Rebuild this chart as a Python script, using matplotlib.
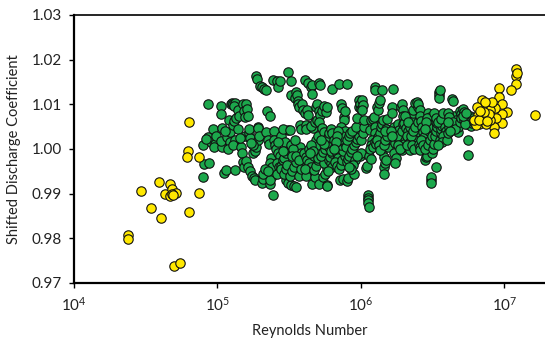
import matplotlib
matplotlib.use('Agg')
import matplotlib.pyplot as plt
import numpy as np
from matplotlib.ticker import NullLocator

# ---------------- data ----------------
# log10 of Reynolds number and shifted discharge coefficient, green series
green_log10_re = [
    4.898, 4.903, 4.898, 4.932, 4.944, 4.937, 4.956, 4.968, 4.981, 4.990, 4.975, 4.920,
    5.024, 5.024, 5.029, 5.029, 5.026, 5.046, 5.058, 5.078, 5.066, 5.090, 5.085, 5.093, 5.050, 5.070,
    5.100, 5.110, 5.120, 5.115, 5.105, 5.118, 5.130, 5.125, 5.110, 5.125, 5.140, 5.150, 5.145, 5.165, 5.170, 5.180, 5.185, 5.190, 5.195, 5.175, 5.185, 5.160,
    5.200, 5.205, 5.210, 5.220, 5.225, 5.223, 5.199, 5.210, 5.228, 5.240, 5.255, 5.265, 5.272, 5.279, 5.280, 5.285, 5.250, 5.260, 5.270, 5.280, 5.290, 5.295, 5.245, 5.235,
    5.310, 5.325, 5.340, 5.308, 5.320, 5.315, 5.345, 5.364, 5.340, 5.350, 5.360, 5.370, 5.365, 5.383, 5.378, 5.364, 5.366, 5.389, 5.395, 5.392, 5.398, 5.388, 5.330, 5.350,
    5.415, 5.425, 5.435, 5.410, 5.422, 5.435, 5.417, 5.430, 5.445, 5.435, 5.417, 5.445, 5.455, 5.466, 5.478, 5.490, 5.500, 5.490, 5.495, 5.440, 5.455, 5.470, 5.480, 5.495, 5.465, 5.475, 5.485, 5.460, 5.420,
    5.510, 5.505, 5.515, 5.540, 5.548, 5.553, 5.558, 5.563, 5.570, 5.515, 5.530, 5.545, 5.505, 5.520, 5.535, 5.548, 5.560, 5.573, 5.575, 5.580, 5.510, 5.525, 5.540, 5.590, 5.595, 5.585, 5.590, 5.598, 5.590, 5.570, 5.585, 5.520, 5.550, 5.565,
    5.607, 5.630, 5.650, 5.662, 5.660, 5.610, 5.622, 5.634, 5.615, 5.620, 5.603, 5.615, 5.627, 5.640, 5.650, 5.633, 5.615, 5.607, 5.663, 5.655, 5.660, 5.680, 5.675, 5.690, 5.702, 5.675, 5.698, 5.685, 5.695, 5.705, 5.690, 5.700, 5.705, 5.680, 5.693, 5.640, 5.650, 5.665, 5.645,
    5.709, 5.714, 5.715, 5.728, 5.740, 5.710, 5.728, 5.745, 5.711, 5.735, 5.750, 5.762, 5.745, 5.720, 5.735, 5.750, 5.760, 5.770, 5.780, 5.790, 5.800, 5.810, 5.757, 5.766, 5.760, 5.766, 5.775, 5.790, 5.800, 5.785, 5.795, 5.780, 5.790, 5.770, 5.740, 5.725,
    5.796, 5.845, 5.820, 5.830, 5.840, 5.818, 5.830, 5.845, 5.858, 5.870, 5.860, 5.865, 5.880, 5.885, 5.890, 5.862, 5.886, 5.854, 5.878, 5.890, 5.875, 5.860, 5.880, 5.895, 5.850, 5.870, 5.840, 5.830, 5.825, 5.815,
    5.900, 5.903, 5.910, 5.900, 5.910, 5.920, 5.930, 5.940, 5.950, 5.963, 5.975, 5.985, 5.995, 5.905, 5.915, 5.925, 5.940, 5.951, 5.965, 5.975, 5.985, 5.990, 5.995, 6.000, 5.992, 6.000, 5.960, 5.970, 5.945, 5.930, 5.920,
    6.005, 6.012, 6.007, 6.000, 6.012, 6.024, 6.020, 6.032, 6.040, 6.049, 6.049, 6.049, 6.049, 6.054, 6.054, 6.068, 6.061, 6.073, 6.085, 6.097, 6.097, 6.090, 6.095, 6.100, 6.080, 6.070, 6.060, 6.085, 6.095,
    6.112, 6.122, 6.127, 6.134, 6.146, 6.122, 6.134, 6.141, 6.146, 6.151, 6.146, 6.158, 6.163, 6.158, 6.170, 6.175, 6.180, 6.190, 6.194, 6.105, 6.115, 6.125, 6.135, 6.160, 6.170, 6.180, 6.188, 6.175, 6.165,
    6.214, 6.219, 6.224, 6.231, 6.238, 6.231, 6.243, 6.238, 6.255, 6.267, 6.263, 6.267, 6.279, 6.287, 6.291, 6.296, 6.287, 6.296, 6.300, 6.250, 6.260, 6.275, 6.210, 6.220, 6.285, 6.295,
    6.303, 6.315, 6.328, 6.323, 6.340, 6.340, 6.344, 6.352, 6.360, 6.364, 6.376, 6.383, 6.376, 6.388, 6.395, 6.310, 6.330, 6.350, 6.365, 6.380, 6.395, 6.320, 6.355, 6.370,
    6.400, 6.410, 6.415, 6.420, 6.427, 6.432, 6.440, 6.405, 6.410, 6.415, 6.420, 6.450, 6.455, 6.460, 6.485, 6.485, 6.490, 6.497, 6.470, 6.480, 6.490, 6.460, 6.475, 6.465, 6.455, 6.445, 6.435, 6.450, 6.470, 6.480, 6.495,
    6.505, 6.510, 6.514, 6.520, 6.527, 6.530, 6.522, 6.534, 6.545, 6.545, 6.545, 6.550, 6.550, 6.556, 6.560, 6.566, 6.573, 6.580, 6.510, 6.520, 6.540, 6.555, 6.570, 6.585, 6.590, 6.575, 6.565, 6.540,
    6.600, 6.607, 6.617, 6.624, 6.631, 6.634, 6.639, 6.650, 6.660, 6.665, 6.670, 6.675, 6.680, 6.690, 6.695, 6.605, 6.615, 6.640, 6.655, 6.620, 6.610, 6.690, 6.700,
    6.708, 6.720, 6.728, 6.733, 6.740, 6.746, 6.746, 6.750, 6.755, 6.760, 6.765, 6.770, 6.775, 6.780, 6.715, 6.725, 6.710, 6.735, 6.790, 6.800,
]
green_cd = [
    0.9937, 0.9967, 1.0010, 1.0100, 0.9969, 1.0027, 1.0016, 1.0044, 1.0012, 1.0030, 1.0005, 1.0022,
    1.0096, 1.0079, 1.0046, 1.0005, 1.0017, 0.9947, 0.9954, 1.0065, 1.0027, 1.0037, 1.0015, 1.0101, 1.0040, 1.0000,
    1.0103, 1.0100, 1.0102, 1.0096, 1.0053, 1.0063, 1.0070, 1.0020, 1.0008, 0.9952, 1.0088, 1.0075, 1.0045, 1.0005, 0.9990, 1.0100, 1.0085, 1.0072, 1.0030, 0.9972, 0.9960, 1.0025,
    1.0100, 1.0090, 1.0075, 1.0035, 1.0025, 1.0045, 0.9973, 0.9960, 0.9950, 0.9940, 0.9935, 0.9930, 1.0163, 1.0157, 1.0050, 1.0048, 0.9990, 0.9995, 1.0005, 1.0020, 1.0030, 1.0140, 1.0008, 1.0013,
    1.0138, 1.0135, 1.0131, 0.9925, 0.9933, 0.9945, 1.0084, 1.0073, 1.0037, 1.0020, 1.0012, 0.9980, 0.9968, 0.9960, 0.9940, 0.9922, 0.9930, 1.0154, 1.0040, 1.0020, 1.0010, 0.9898, 0.9955, 0.9950,
    1.0152, 1.0139, 1.0152, 1.0000, 0.9990, 0.9985, 0.9968, 0.9960, 0.9963, 0.9950, 0.9945, 0.9955, 0.9975, 0.9980, 0.9990, 0.9997, 1.0005, 1.0173, 1.0042, 1.0030, 1.0045, 1.0015, 0.9930, 0.9925, 0.9945, 0.9955, 0.9965, 0.9995, 1.0015,
    1.0152, 1.0043, 1.0120, 1.0115, 1.0128, 1.0122, 1.0107, 1.0100, 1.0095, 0.9920, 0.9918, 0.9915, 0.9940, 0.9950, 0.9960, 0.9970, 0.9985, 1.0053, 1.0005, 0.9990, 1.0010, 1.0000, 1.0020, 1.0100, 1.0087, 1.0045, 0.9978, 0.9965, 0.9952, 0.9940, 0.9955, 0.9985, 0.9985, 0.9975,
    1.0154, 1.0148, 1.0139, 1.0144, 1.0123, 1.0080, 1.0088, 1.0077, 1.0054, 1.0045, 0.9990, 0.9982, 0.9975, 0.9968, 0.9960, 0.9948, 0.9940, 0.9955, 1.0046, 1.0051, 0.9922, 0.9937, 0.9952, 0.9963, 0.9975, 0.9985, 0.9980, 1.0095, 1.0100, 1.0085, 1.0020, 1.0028, 1.0010, 1.0060, 1.0065, 1.0000, 1.0010, 0.9995, 0.9990,
    1.0148, 1.0143, 1.0076, 1.0085, 1.0097, 1.0060, 1.0048, 1.0039, 0.9922, 0.9937, 0.9945, 0.9958, 0.9968, 0.9985, 0.9993, 1.0000, 1.0010, 1.0027, 1.0035, 1.0045, 1.0035, 1.0020, 1.0082, 1.0094, 0.9920, 0.9917, 0.9975, 0.9968, 0.9960, 0.9982, 0.9990, 1.0005, 0.9995, 0.9950, 1.0012, 1.0020,
    1.0135, 1.0146, 1.0005, 0.9990, 0.9980, 0.9970, 0.9962, 0.9955, 0.9965, 0.9975, 1.0100, 1.0092, 1.0072, 1.0064, 1.0085, 1.0050, 1.0040, 0.9930, 0.9932, 0.9985, 0.9995, 1.0010, 1.0015, 1.0005, 1.0020, 1.0030, 1.0040, 1.0030, 1.0015, 1.0000,
    1.0146, 0.9928, 0.9935, 0.9970, 0.9978, 0.9985, 0.9993, 1.0000, 1.0008, 1.0015, 1.0023, 1.0030, 1.0045, 1.0020, 1.0028, 1.0035, 1.0040, 0.9943, 1.0050, 1.0070, 1.0093, 1.0110, 1.0100, 1.0090, 0.9985, 0.9990, 0.9975, 0.9985, 0.9965, 0.9955, 0.9960,
    1.0110, 1.0099, 1.0088, 1.0020, 1.0035, 1.0050, 1.0065, 0.9958, 0.9962, 0.9897, 0.9891, 0.9885, 0.9878, 0.9870, 0.9985, 0.9978, 1.0042, 1.0065, 1.0068, 1.0138, 1.0132, 1.0072, 1.0050, 1.0035, 1.0020, 1.0010, 1.0000, 1.0005, 1.0015,
    1.0094, 1.0087, 1.0102, 1.0109, 1.0131, 1.0027, 1.0035, 1.0050, 1.0057, 1.0065, 0.9995, 0.9983, 0.9960, 0.9945, 0.9968, 0.9975, 1.0068, 1.0005, 1.0023, 1.0012, 1.0020, 1.0008, 0.9998, 1.0010, 1.0020, 1.0030, 1.0042, 1.0045, 1.0040,
    1.0094, 1.0080, 1.0135, 1.0050, 1.0013, 0.9990, 0.9979, 0.9968, 1.0057, 1.0043, 1.0032, 1.0020, 1.0094, 1.0100, 1.0087, 1.0073, 0.9998, 1.0005, 1.0012, 1.0030, 1.0010, 1.0000, 1.0040, 1.0030, 1.0040, 1.0055,
    1.0058, 1.0047, 1.0040, 1.0028, 1.0015, 0.9997, 1.0050, 1.0065, 1.0080, 1.0088, 1.0102, 1.0035, 1.0020, 1.0105, 1.0094, 1.0075, 1.0060, 1.0030, 1.0040, 1.0050, 1.0060, 1.0010, 1.0010, 1.0000,
    1.0100, 1.0088, 1.0073, 1.0062, 1.0050, 1.0038, 1.0026, 1.0012, 1.0005, 0.9998, 1.0020, 0.9975, 0.9982, 0.9985, 0.9930, 0.9937, 0.9924, 0.9990, 1.0080, 1.0072, 1.0065, 1.0070, 1.0040, 1.0050, 1.0060, 1.0045, 1.0010, 1.0000, 1.0010, 1.0020, 1.0030,
    1.0000, 1.0012, 1.0028, 1.0040, 1.0050, 1.0058, 0.9960, 1.0072, 1.0128, 1.0122, 1.0115, 1.0131, 1.0020, 1.0035, 1.0045, 1.0052, 1.0064, 1.0075, 1.0080, 1.0070, 1.0060, 1.0068, 1.0080, 1.0050, 1.0040, 1.0030, 1.0015, 1.0010,
    1.0020, 1.0035, 1.0050, 1.0060, 1.0070, 1.0113, 1.0108, 1.0075, 1.0065, 1.0055, 1.0045, 1.0038, 1.0050, 1.0085, 1.0078, 1.0080, 1.0072, 1.0060, 1.0045, 1.0040, 1.0060, 1.0060, 1.0070,
    1.0090, 1.0082, 1.0072, 1.0063, 1.0055, 1.0021, 0.9986, 1.0068, 1.0060, 1.0075, 1.0052, 1.0065, 1.0058, 1.0070, 1.0065, 1.0055, 1.0075, 1.0080, 1.0060, 1.0065,
]

# yellow series (low and high Reynolds numbers)
yellow_log10_re = [
    4.374, 4.374, 4.468, 4.539, 4.590, 4.609, 4.631, 4.667, 4.672, 4.684,
    4.709, 4.697, 4.738, 4.799, 4.794, 4.791, 4.799, 4.869, 4.874, 4.680, 4.690,
    7.082, 7.082, 7.082, 7.085, 7.048, 7.210, 6.960, 6.962, 7.015, 6.980,
    6.985, 6.985, 6.939, 6.934, 6.929, 6.929, 6.845, 6.806, 6.876, 6.899,
    6.911, 6.870, 6.850, 6.825, 6.801, 6.874, 6.903, 6.837, 6.813, 6.789,
    6.862, 6.890, 6.820, 6.855, 6.830, 6.880,
]
yellow_cd = [
    0.9807, 0.9798, 0.9907, 0.9868, 0.9926, 0.9845, 0.9900, 0.9922, 0.9894, 0.9911,
    0.9902, 0.9737, 0.9745, 1.0061, 0.9996, 0.9981, 0.9858, 0.9982, 0.9902, 0.9900, 0.9896,
    1.0179, 1.0164, 1.0145, 1.0171, 1.0132, 1.0076, 1.0136, 1.0117, 1.0083, 1.0100,
    1.0078, 1.0058, 1.0070, 1.0091, 1.0050, 1.0035, 1.0110, 1.0093, 1.0093, 1.0087,
    1.0106, 1.0068, 1.0061, 1.0057, 1.0053, 1.0056, 1.0065, 1.0072, 1.0076, 1.0065,
    1.0106, 1.0078, 1.0066, 1.0082, 1.0085, 1.0062,
]

x_tick_values = [1e4, 1e5, 1e6, 1e7]
x_tick_labels = ['$10^{4}$', '$10^{5}$', '$10^{6}$', '$10^{7}$']
y_tick_values = [0.97, 0.98, 0.99, 1.00, 1.01, 1.02, 1.03]
y_tick_labels = ['0.97', '0.98', '0.99', '1.00', '1.01', '1.02', '1.03']

# ---------------- figure ----------------
plt.rcParams['font.family'] = ['Lato', 'DejaVu Sans']
plt.rcParams['mathtext.default'] = 'regular'
plt.rcParams['mathtext.fontset'] = 'custom'
plt.rcParams['mathtext.rm'] = 'Lato'

fig = plt.figure(figsize=(5.45, 3.40), dpi=100)
ax = fig.add_axes([74 / 545, 57 / 340, 471 / 545, 268 / 340])

green_re = 10 ** np.array(green_log10_re)
yellow_re = 10 ** np.array(yellow_log10_re)

ax.scatter(green_re, green_cd, s=46, c='#1CA84C', edgecolors='#111111',
           linewidths=0.8, zorder=3)
ax.scatter(yellow_re, yellow_cd, s=46, c='#FFE800', edgecolors='#111111',
           linewidths=0.8, zorder=4)

ax.set_xscale('log')
ax.set_xlim(1e4, 10 ** 7.283)
ax.set_ylim(0.97, 1.03)
ax.set_xticks(x_tick_values)
ax.set_xticklabels(x_tick_labels)
ax.xaxis.set_minor_locator(NullLocator())
ax.set_yticks(y_tick_values)
ax.set_yticklabels(y_tick_labels)

for side in ['left', 'bottom']:
    ax.spines[side].set_linewidth(1.6)
    ax.spines[side].set_color('black')
ax.spines['top'].set_linewidth(1.2)
ax.spines['top'].set_color('black')
ax.spines['right'].set_visible(False)

ax.tick_params(axis='both', direction='out', length=3.5, width=1.0,
               colors='black', labelsize=11, labelcolor='#222222')
ax.tick_params(axis='x', pad=6)
ax.tick_params(axis='y', pad=5)

ax.set_xlabel('Reynolds Number', fontsize=10.5, color='#222222', labelpad=7)
ax.set_ylabel('Shifted Discharge Coefficient', fontsize=10.5, color='#222222', labelpad=8)

fig.savefig('out.png', dpi=100)
